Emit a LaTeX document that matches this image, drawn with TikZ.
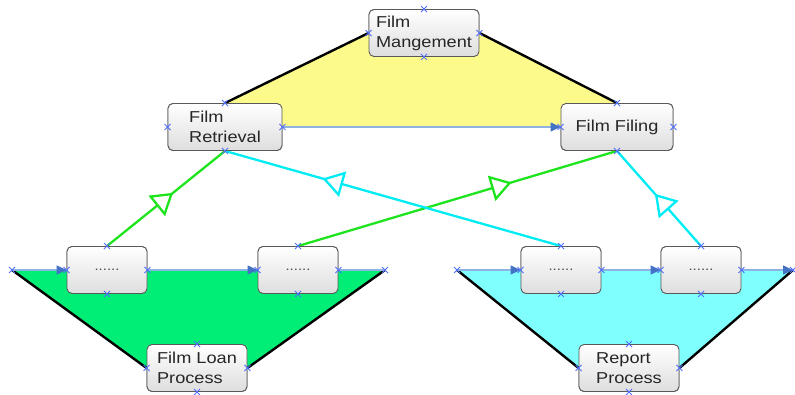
\documentclass[tikz,border=0pt]{standalone}
\usepackage{fontspec}
\setmainfont[FakeStretch=1.15]{Liberation Sans}
\usetikzlibrary{arrows.meta,decorations.markings}
\definecolor{yel}{RGB}{252,250,138}
\definecolor{grn}{RGB}{0,238,118}
\definecolor{cya}{RGB}{128,255,255}
\definecolor{lgrn}{RGB}{30,228,30}
\definecolor{lcya}{RGB}{0,236,245}
\definecolor{lblu}{RGB}{142,178,226}
\definecolor{tblu}{RGB}{68,114,196}
\definecolor{mblu}{RGB}{80,110,255}
\newcommand\xcr[1]{\draw[mblu, line width=0.8pt] (#1) ++(-3,-3) -- ++(6,6) ++(-6,0) -- ++(6,-6);}
\begin{document}
\begin{tikzpicture}[x=1pt, y=-1pt, line join=round, font=\fontsize{15.8}{20}\selectfont]
	\tikzset{box/.style={draw=black!65, line width=0.9pt, rounded corners=5pt, top color=white, bottom color=black!13, minimum height=47pt, align=left, inner sep=1pt, text=black!85},
		dots/.style={box, minimum width=80pt, font=\fontsize{13}{13}\selectfont, text=black!70},
		flow/.style={draw=lblu, line width=1.3pt, -{Triangle[length=10pt,width=9pt,color=tblu]}},
		edge/.style={line width=2.4pt, black},
		up/.style={line width=2.3pt, postaction={decorate}, decoration={markings, mark=at position #1 with {\arrow{Triangle[length=21pt 0,width=26pt 0,fill=white]}}}}}
	\useasboundingbox (0,0) rectangle (795,395);
	% nodes
	\node[box, minimum width=110pt] (mng) at (424,33) {Film\\Mangement};
	\node[box, minimum width=114pt] (ret) at (225,127) {Film\\Retrieval};
	\node[box, minimum width=112pt] (fil) at (617,127) {Film Filing};
	\foreach \n/\x in {d1/107, d2/298, d3/561, d4/701}
		\node[dots] (\n) at (\x,270) {......};
	\node[box, minimum width=100pt] (loan) at (197,368) {Film Loan\\Process};
	\node[box, minimum width=100pt] (rep) at (629,368) {Report\\Process};
	\coordinate (la) at (12,270); \coordinate (lb) at (385,270);
	\coordinate (ra) at (457,270); \coordinate (rb) at (793,270);
	% fills and frame lines
	\fill[yel] (ret.north) -- (mng.west) -- (mng.east) -- (fil.north) -- (fil.center) -- (ret.center) -- cycle;
	\fill[grn] (la) -- (lb) -- (loan.east) -- (loan.west) -- cycle;
	\fill[cya] (ra) -- (rb) -- (rep.east) -- (rep.west) -- cycle;
	\draw[edge] (mng.west) -- (ret.north) (mng.east) -- (fil.north);
	\draw[edge] (la) -- (loan.west) (lb) -- (loan.east);
	\draw[edge] (ra) -- (rep.west) (rb) -- (rep.east);
	% connectors
	\draw[flow] (ret.east) -- (fil.west);
	\draw[flow] (la) -- (d1.west);
	\draw[flow] (d1.east) -- (d2.west);
	\draw[lblu, line width=1.3pt] (d2.east) -- (lb);
	\draw[flow] (ra) -- (d3.west);
	\draw[flow] (d3.east) -- (d4.west);
	\draw[flow] (d4.east) -- (rb);
	\draw[up=0.56, lgrn] (d1.north) -- (ret.south);
	\draw[up=0.67, lgrn] (d2.north) -- (fil.south);
	\draw[up=0.71, lcya] (d3.north) -- (ret.south);
	\draw[up=0.55, lcya] (d4.north) -- (fil.south);
	% redraw boxes on top
	\node[box, minimum width=110pt] at (mng) {Film\\Mangement};
	\node[box, minimum width=114pt] at (ret) {Film\\Retrieval};
	\node[box, minimum width=112pt] at (fil) {Film Filing};
	\foreach \n in {d1,d2,d3,d4}
		\node[dots] at (\n) {......};
	\node[box, minimum width=100pt] at (loan) {Film Loan\\Process};
	\node[box, minimum width=100pt] at (rep) {Report\\Process};
	% connection marks
	\foreach \n in {mng,ret,fil,d1,d2,d3,d4,loan,rep}
		\foreach \a in {north,south,east,west} {\xcr{\n.\a}}
	\foreach \c in {la,lb,ra,rb} {\xcr{\c}}
\end{tikzpicture}
\end{document}
